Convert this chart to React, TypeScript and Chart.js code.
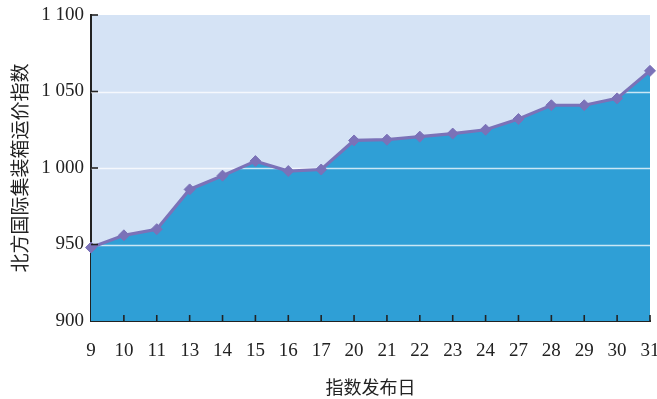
import React, { useEffect, useRef } from "react";
import { Chart, registerables } from "chart.js";

Chart.register(...registerables);

const categories = ["9", "10", "11", "13", "14", "15", "16", "17", "20", "21", "22", "23", "24", "27", "28", "29", "30", "31"];
const indexValues = [948, 956, 960, 986, 995, 1004.5, 998, 999, 1018, 1018.5, 1020.5, 1022.5, 1025, 1032, 1041, 1041, 1045.5, 1063.5];
const yTickValues = [900, 950, 1000, 1050, 1100];
const yTickLabels = ["900", "950", "1 000", "1 050", "1 100"];
const xTitle = "指数发布日";
const yTitle = "北方国际集装箱运价指数";

const AXIS = "#222222";
const LINE = "#7b72b8";
const FILL = "#2f9fd6";
const PLOT_BG = "#d5e3f5";

export default function App() {
  const ref = useRef<HTMLCanvasElement | null>(null);

  useEffect(() => {
    if (!ref.current) return;

    const bgPlugin = {
      id: "plotBg",
      beforeDraw(chart: any) {
        const { ctx, chartArea } = chart;
        ctx.save();
        ctx.fillStyle = PLOT_BG;
        ctx.fillRect(chartArea.left, chartArea.top, chartArea.right - chartArea.left, chartArea.bottom - chartArea.top);
        ctx.restore();
      },
    };

    const gridPlugin = {
      id: "overGrid",
      beforeDatasetsDraw(chart: any) {
        const { ctx, chartArea } = chart;
        const y = chart.scales.y;
        ctx.save();
        ctx.strokeStyle = "rgba(255,255,255,0.75)";
        ctx.lineWidth = 1.5;
        y.ticks.forEach((t: any) => {
          if (t.value <= y.min || t.value >= y.max) return;
          const py = Math.round(y.getPixelForValue(t.value)) + 0.5;
          ctx.beginPath();
          ctx.moveTo(chartArea.left, py);
          ctx.lineTo(chartArea.right, py);
          ctx.stroke();
        });
        ctx.restore();
      },
    };

    const tickPlugin = {
      id: "innerTicks",
      afterDraw(chart: any) {
        const { ctx, chartArea } = chart;
        const x = chart.scales.x;
        const y = chart.scales.y;
        ctx.save();
        ctx.strokeStyle = AXIS;
        ctx.lineWidth = 1.6;
        y.ticks.forEach((t: any) => {
          if (t.value <= y.min) return;
          const py = y.getPixelForValue(t.value);
          ctx.beginPath();
          ctx.moveTo(chartArea.left, py);
          ctx.lineTo(chartArea.left + 7, py);
          ctx.stroke();
        });
        x.ticks.forEach((_t: any, i: number) => {
          if (i === 0) return;
          const px = x.getPixelForTick(i);
          ctx.beginPath();
          ctx.moveTo(px, chartArea.bottom);
          ctx.lineTo(px, chartArea.bottom - 6);
          ctx.stroke();
        });
        ctx.restore();
      },
    };

    const chart = new Chart(ref.current, {
      type: "line",
      data: {
        labels: categories,
        datasets: [
          {
            data: indexValues,
            borderColor: LINE,
            borderWidth: 3.2,
            backgroundColor: FILL,
            fill: "start",
            tension: 0,
            pointStyle: "rectRot",
            pointRadius: 5.5,
            pointBackgroundColor: LINE,
            pointBorderColor: LINE,
            pointBorderWidth: 1,
          },
        ],
      },
      options: {
        responsive: false,
        animation: false,
        layout: { padding: { top: 15, right: 7, bottom: 0, left: 0 } },
        plugins: {
          legend: { display: false },
          tooltip: { enabled: false },
          filler: { drawTime: "beforeDatasetsDraw" },
        } as any,
        scales: {
          x: {
            grid: { display: false, drawTicks: false },
            border: { display: true, color: AXIS, width: 2 },
            ticks: {
              color: AXIS,
              padding: 19,
              maxRotation: 0,
              autoSkip: false,
              font: { family: "'Liberation Serif', 'Times New Roman', serif", size: 19 },
            },
            title: {
              display: true,
              text: xTitle,
              color: AXIS,
              padding: { top: 0, bottom: 1 },
              font: { family: "'Noto Sans CJK SC', sans-serif", size: 18 },
            },
            afterFit(scale: any) {
              scale.height = 78;
              scale.paddingLeft = 0;
              scale.paddingRight = 0;
            },
          },
          y: {
            min: 900,
            max: 1100,
            grid: { display: false, drawTicks: false },
            border: { display: true, color: AXIS, width: 2 },
            ticks: {
              stepSize: 50,
              color: AXIS,
              padding: 7,
              font: { family: "'Liberation Serif', 'Times New Roman', serif", size: 19 },
              callback: (value: any) => {
                const i = yTickValues.indexOf(Number(value));
                return i >= 0 ? yTickLabels[i] : "";
              },
            },
            title: {
              display: true,
              text: yTitle,
              color: AXIS,
              padding: { top: 8, bottom: 0 },
              font: { family: "'Noto Sans CJK SC', sans-serif", size: 19 },
            },
            afterFit(scale: any) {
              scale.width = 91;
              scale.paddingTop = 0;
              scale.paddingBottom = 0;
            },
          },
        },
      } as any,
      plugins: [bgPlugin, gridPlugin, tickPlugin],
    });

    return () => chart.destroy();
  }, []);

  return (
    <div style={{ position: "absolute", left: 0, top: 0, width: 657, height: 399, background: "#fff" }}>
      <canvas ref={ref} width={657} height={399} style={{ display: "block" }} />
    </div>
  );
}
